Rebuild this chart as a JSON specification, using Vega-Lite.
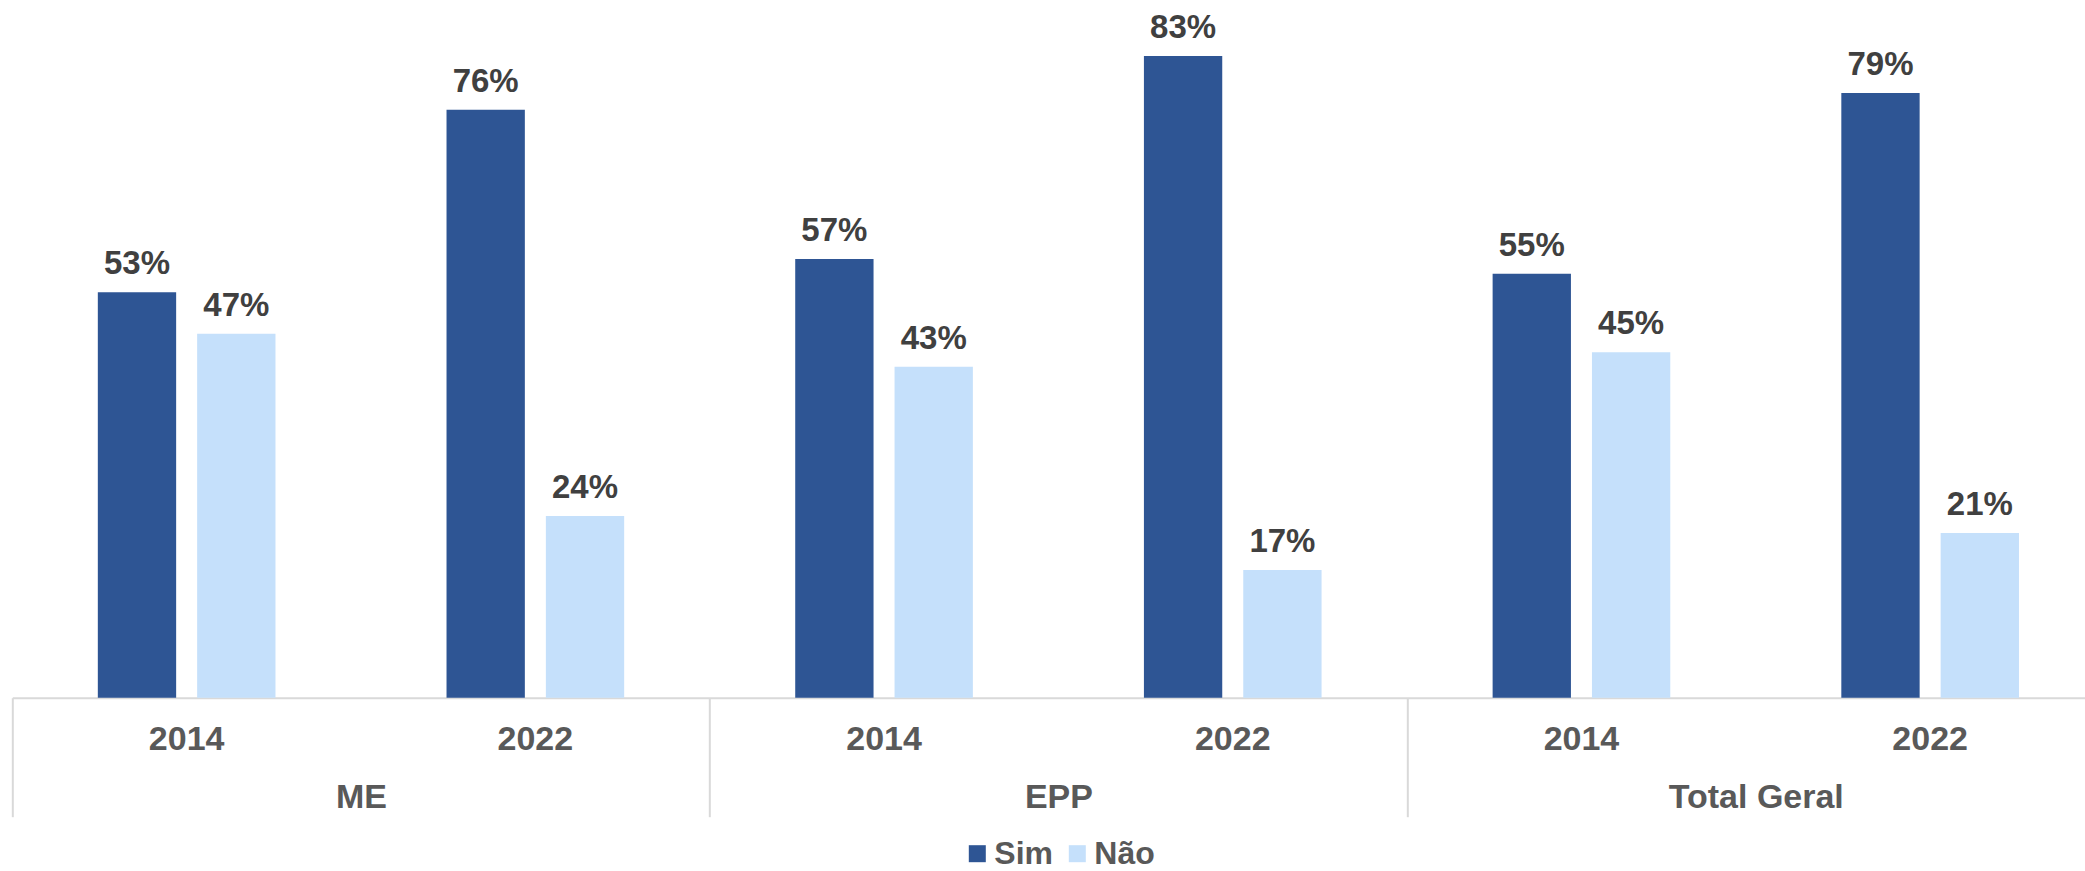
{
  "$schema": "https://vega.github.io/schema/vega-lite/v6.json",
  "width": 2073,
  "height": 692.5,
  "autosize": "none",
  "padding": {"left": 12.3, "top": 5.2, "right": 0, "bottom": 173.3},
  "config": {"view": {"stroke": null}, "font": "Liberation Sans"},
  "data": {
    "values": [
      {"grupo": "ME", "ano": "2014", "key": "ME|2014", "serie": "Sim", "valor": 0.527},
      {"grupo": "ME", "ano": "2014", "key": "ME|2014", "serie": "Não", "valor": 0.473},
      {"grupo": "ME", "ano": "2022", "key": "ME|2022", "serie": "Sim", "valor": 0.764},
      {"grupo": "ME", "ano": "2022", "key": "ME|2022", "serie": "Não", "valor": 0.236},
      {"grupo": "EPP", "ano": "2014", "key": "EPP|2014", "serie": "Sim", "valor": 0.570},
      {"grupo": "EPP", "ano": "2014", "key": "EPP|2014", "serie": "Não", "valor": 0.430},
      {"grupo": "EPP", "ano": "2022", "key": "EPP|2022", "serie": "Sim", "valor": 0.834},
      {"grupo": "EPP", "ano": "2022", "key": "EPP|2022", "serie": "Não", "valor": 0.166},
      {"grupo": "Total Geral", "ano": "2014", "key": "Total Geral|2014", "serie": "Sim", "valor": 0.551},
      {"grupo": "Total Geral", "ano": "2014", "key": "Total Geral|2014", "serie": "Não", "valor": 0.449},
      {"grupo": "Total Geral", "ano": "2022", "key": "Total Geral|2022", "serie": "Sim", "valor": 0.786},
      {"grupo": "Total Geral", "ano": "2022", "key": "Total Geral|2022", "serie": "Não", "valor": 0.214}
    ]
  },
  "layer": [
    {
      "encoding": {
        "x": {
          "field": "key",
          "type": "nominal",
          "sort": ["ME|2014", "ME|2022", "EPP|2014", "EPP|2022", "Total Geral|2014", "Total Geral|2022"],
          "scale": {"range": [0, 2092.2], "paddingInner": 0, "paddingOuter": 0},
          "axis": {
            "orient": "bottom",
            "title": null,
            "labelExpr": "split(datum.label, '|')[1]",
            "labelAngle": 0,
            "ticks": false,
            "tickSize": 0,
            "domain": true,
            "domainColor": "#D9D9D9",
            "domainWidth": 2,
            "labelPadding": 52.3,
            "labelBaseline": "alphabetic",
            "labelFont": "Liberation Sans",
            "labelFontSize": 34,
            "labelFontWeight": "bold",
            "labelColor": "#595959"
          }
        },
        "xOffset": {
          "field": "serie",
          "type": "nominal",
          "sort": ["Sim", "Não"],
          "scale": {"paddingInner": 0.2115, "paddingOuter": 0.861}
        },
        "y": {
          "field": "valor",
          "type": "quantitative",
          "scale": {"domain": [0, 0.9]},
          "axis": null
        }
      },
      "layer": [
        {
          "mark": {"type": "bar"},
          "encoding": {
            "color": {
              "field": "serie",
              "type": "nominal",
              "sort": ["Sim", "Não"],
              "scale": {"domain": ["Sim", "Não"], "range": ["#2E5594", "#C5E0FB"]},
              "legend": {
                "orient": "none",
                "direction": "horizontal",
                "legendX": 949,
                "legendY": 832.5,
                "title": null,
                "padding": 0,
                "symbolType": "square",
                "symbolSize": 289,
                "symbolStrokeWidth": 0,
                "labelFont": "Liberation Sans",
                "labelFontSize": 32,
                "labelFontWeight": "bold",
                "labelColor": "#595959",
                "labelOffset": 1,
                "columnPadding": 8
              }
            }
          }
        },
        {
          "mark": {
            "type": "text",
            "baseline": "alphabetic",
            "align": "center",
            "dy": -18,
            "font": "Liberation Sans",
            "fontSize": 33,
            "fontWeight": "bold",
            "color": "#404040"
          },
          "encoding": {
            "text": {"field": "valor", "type": "quantitative", "format": ".0%"}
          }
        }
      ]
    },
    {
      "mark": {"type": "point", "opacity": 0},
      "encoding": {
        "x": {
          "field": "grupo",
          "type": "nominal",
          "sort": ["ME", "EPP", "Total Geral"],
          "scale": {"range": [0, 2092.2], "paddingInner": 0, "paddingOuter": 0},
          "axis": {
            "orient": "bottom",
            "title": null,
            "labelAngle": 0,
            "domain": false,
            "ticks": true,
            "tickBand": "extent",
            "tickSize": 119,
            "tickColor": "#D9D9D9",
            "tickWidth": 2,
            "labelPadding": -8.7,
            "labelBaseline": "alphabetic",
            "labelFont": "Liberation Sans",
            "labelFontSize": 34,
            "labelFontWeight": "bold",
            "labelColor": "#595959"
          }
        }
      }
    }
  ],
  "resolve": {"scale": {"x": "independent"}}
}
